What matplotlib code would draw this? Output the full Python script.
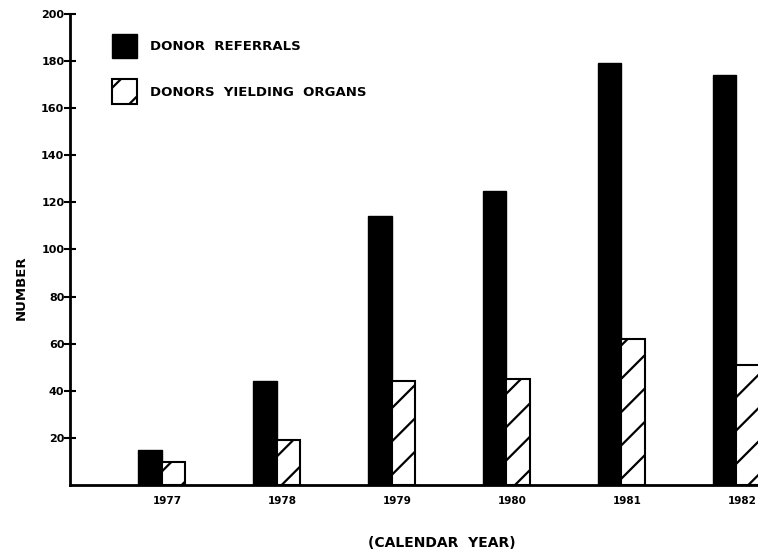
import numpy as np
import matplotlib
matplotlib.use("Agg")
from matplotlib import pyplot as plt

# values
years = ["1977", "1978", "1979", "1980", "1981", "1982"]
donor_referrals = [15, 44, 114, 125, 179, 174]
donors_yielding = [10, 19, 44, 45, 62, 51]
y_ticks = [20, 40, 60, 80, 100, 120, 140, 160, 180, 200]

plt.rcParams['hatch.linewidth'] = 1.6
plt.rcParams['font.family'] = ['DejaVu Sans']

fig = plt.figure(figsize=(7.58, 5.55), dpi=100)
ax = fig.add_axes([0.0923, 0.126, 0.9077, 0.849])

x = np.arange(len(years))
w = 0.205
ax.bar(x - w / 2, donor_referrals, w, color='black', edgecolor='black', label='DONOR  REFERRALS')
ax.bar(x + w / 2, donors_yielding, w, color='white', edgecolor='black', linewidth=1.5,
       hatch='/', label='DONORS  YIELDING  ORGANS')

ax.set_xlim(-0.8, 5.19)
ax.set_ylim(0, 200)
ax.set_yticks(y_ticks)
ax.set_yticklabels([str(v) for v in y_ticks], fontsize=8, fontweight='bold')
ax.set_xticks(x + 0.05)
ax.set_xticklabels(years, fontsize=7.5, fontweight='bold')
ax.tick_params(axis='x', length=0, pad=8)
ax.tick_params(axis='y', length=8, width=1.5, pad=0, direction='inout')

for side in ['top', 'right']:
    ax.spines[side].set_visible(False)
ax.spines['left'].set_linewidth(2)
ax.spines['bottom'].set_linewidth(2)

ax.set_ylabel('NUMBER', fontsize=9.5, fontweight='bold')
ax.yaxis.set_label_coords(-0.062, 0.418)
ax.set_xlabel('(CALENDAR  YEAR)', fontsize=10, fontweight='bold')
ax.xaxis.set_label_coords(0.54, -0.108)

leg = ax.legend(loc='upper left', bbox_to_anchor=(0.061, 0.958), frameon=False,
                borderaxespad=0, borderpad=0,
                handlelength=1.9, handleheight=2.5, labelspacing=1.6,
                handletextpad=1.0, prop={'size': 9.5, 'weight': 'bold'})

fig.savefig('out.png', dpi=100)
